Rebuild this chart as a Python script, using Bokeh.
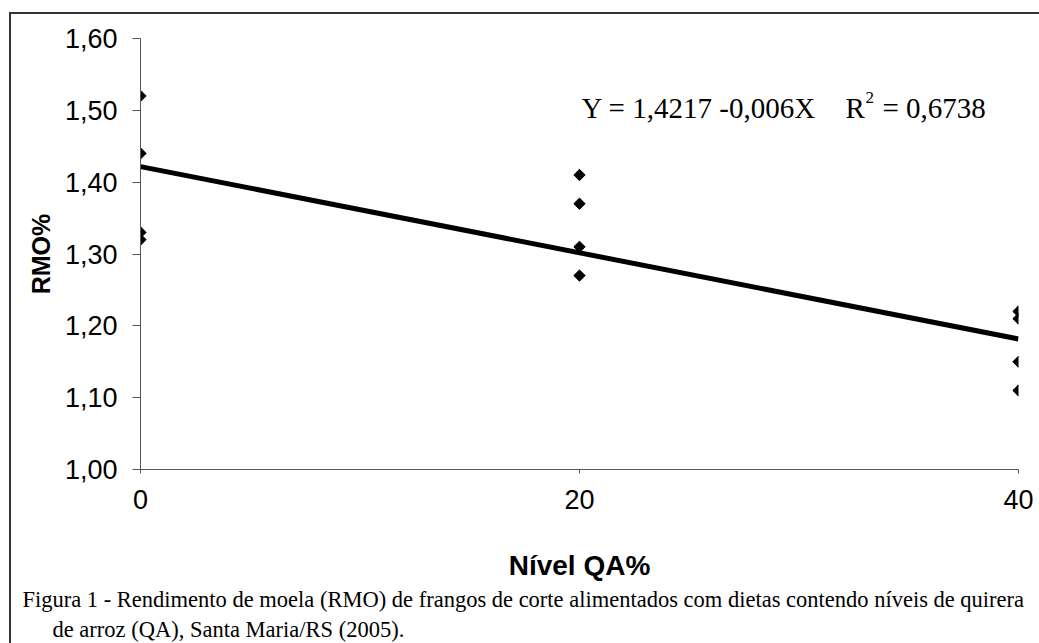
import numpy as np
from bokeh.plotting import figure
from bokeh.models import Label, FixedTicker, Range1d, Title
from bokeh.embed import file_html
from bokeh.resources import INLINE

# ---- data ----
x_levels_0 = [0, 0, 0, 0]
rmo_0 = [1.52, 1.44, 1.33, 1.32]
x_levels_20 = [20, 20, 20, 20]
rmo_20 = [1.41, 1.37, 1.31, 1.27]
x_levels_40 = [40, 40, 40, 40]
rmo_40 = [1.22, 1.21, 1.15, 1.11]

intercept = 1.4217
slope = -0.006
fit_x = [0, 40]

y_ticks = [1.00, 1.10, 1.20, 1.30, 1.40, 1.50, 1.60]
y_tick_labels = ["1,00", "1,10", "1,20", "1,30", "1,40", "1,50", "1,60"]
x_ticks = [0, 20, 40]
x_tick_labels = ["0", "20", "40"]

eq_text = "Y = 1,4217 -0,006X"
r_text = "R"
r_sup = "2"
r_val = "= 0,6738"
caption_1 = "Figura 1 - Rendimento de moela (RMO) de frangos de corte alimentados com dietas contendo níveis de quirera"
caption_2 = "de arroz (QA), Santa Maria/RS (2005)."

# ---- layout ----
W, H = 1039, 643
ML, MR, MT = 140, 21, 38
FW = W - ML - MR
FH = 431
MB = H - MT - FH
X0, X1 = 0, 40
Y0, Y1 = 1.0, 1.6

p = figure(width=W, height=H, output_backend="svg", toolbar_location=None,
           x_range=Range1d(X0, X1), y_range=Range1d(Y0, Y1),
           min_border_left=ML, min_border_right=MR, min_border_top=MT,
           min_border_bottom=MB)
p.border_fill_color = None
p.background_fill_color = None
p.outline_line_color = None
p.xgrid.visible = False
p.ygrid.visible = False
p.styles = {
    "background": "linear-gradient(#333,#333) 9px 12px / 2px 100% no-repeat, "
                  "linear-gradient(#333,#333) 9px 12px / 100% 2px no-repeat"
}

# canvas px -> data
def px2x(px):
    return X0 + (px - ML) * (X1 - X0) / FW

def py2y(py):
    return Y0 + (MT + FH - py) * (Y1 - Y0) / FH

sans = "Liberation Sans"
serif = "Liberation Serif"
for ax in (p.xaxis[0], p.yaxis[0]):
    ax.axis_line_color = "#555555"
    ax.axis_line_width = 1
    ax.major_tick_line_color = "#555555"
    ax.minor_tick_line_color = None
    ax.major_tick_in = 0
    ax.major_label_text_font = sans
    ax.major_label_text_font_size = "27px"
    ax.major_label_text_color = "black"
    ax.axis_label_text_font = sans
    ax.axis_label_text_font_style = "bold"
    ax.axis_label_text_color = "black"

p.yaxis.ticker = FixedTicker(ticks=y_ticks)
p.yaxis.major_label_overrides = dict(zip(y_ticks, y_tick_labels))
p.yaxis.major_tick_out = 8
p.yaxis.major_label_standoff = 15
p.yaxis.axis_label = "RMO%"
p.yaxis.axis_label_text_font_size = "25px"
p.yaxis.axis_label_standoff = 7

p.xaxis.ticker = FixedTicker(ticks=x_ticks)
p.xaxis.major_label_overrides = dict(zip(x_ticks, x_tick_labels))
p.xaxis.major_tick_out = 4
p.xaxis.major_label_standoff = 16
p.xaxis.axis_label = "Nível QA%"
p.xaxis.axis_label_text_font_size = "28px"
p.xaxis.axis_label_standoff = 38

# regression line
fit_y = [intercept + slope * v for v in fit_x]
p.line(fit_x, fit_y, line_color="black", line_width=5)

# points
xs = x_levels_0 + x_levels_20 + x_levels_40
ys = rmo_0 + rmo_20 + rmo_40
p.scatter(xs, ys, marker="square", angle=np.pi / 4, size=8,
          fill_color="black", line_color="black")

# equation
eq_base = 107
EQ_FS = "29px"
p.add_layout(Label(x=px2x(581), y=py2y(eq_base), text=eq_text,
                   text_font=serif, text_font_size=EQ_FS, text_color="black",
                   text_baseline="alphabetic", text_align="left"))
p.add_layout(Label(x=px2x(845), y=py2y(eq_base), text=r_text,
                   text_font=serif, text_font_size=EQ_FS, text_color="black",
                   text_baseline="alphabetic", text_align="left"))
p.add_layout(Label(x=px2x(865), y=py2y(97), text=r_sup,
                   text_font=serif, text_font_size="17px", text_color="black",
                   text_baseline="alphabetic", text_align="left"))
p.add_layout(Label(x=px2x(882), y=py2y(eq_base), text=r_val,
                   text_font=serif, text_font_size=EQ_FS, text_color="black",
                   text_baseline="alphabetic", text_align="left"))

# caption (titles below the x axis)
CAP_FS = "22.5px"
t1 = Title(text=caption_1, align="left", offset=22 - ML, standoff=6,
           vertical_align="top", text_font=serif, text_font_size=CAP_FS,
           text_font_style="normal", text_color="black")
t2 = Title(text=caption_2, align="left", offset=52 - ML, standoff=0,
           vertical_align="top", text_font=serif, text_font_size=CAP_FS,
           text_font_style="normal", text_color="black")
p.add_layout(t1, "below")
p.add_layout(t2, "below")

open("out.html", "w").write(file_html(p, INLINE))
